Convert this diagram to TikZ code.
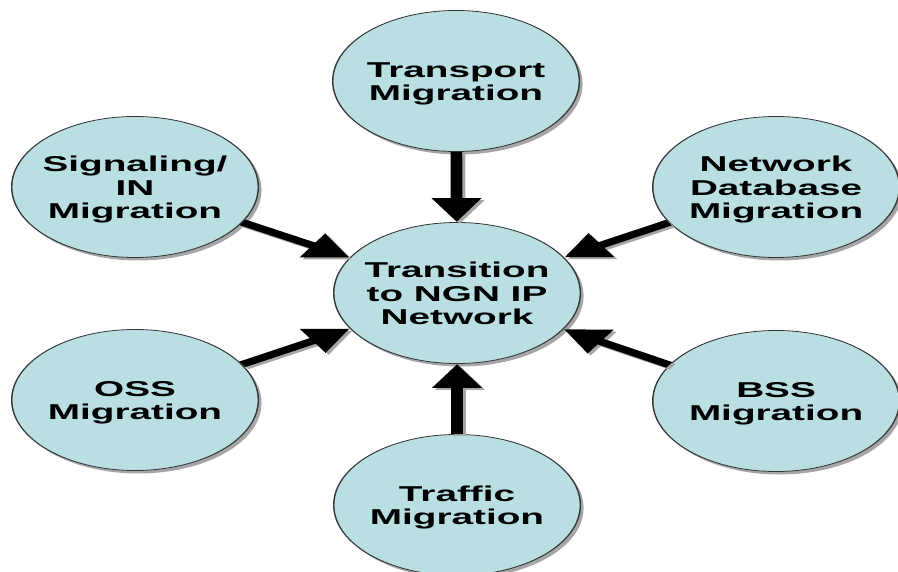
\documentclass[tikz,border=0pt]{standalone}
\usepackage{fontspec}
\setmainfont{Liberation Sans}
\usetikzlibrary{shapes.geometric,arrows.meta,shadows}
\definecolor{bub}{RGB}{185,223,227}
\definecolor{rim}{RGB}{55,55,55}
\newcommand{\bubtext}[1]{\makebox[0pt]{\raisebox{-8.5pt}[0pt][0pt]{\begin{tabular}{@{}c@{}}#1\end{tabular}}}}
\tikzset{
  bubble/.style={ellipse, draw=rim, line width=0.8pt, fill=bub,
    minimum width=137pt, minimum height=141pt, inner sep=0pt,
    font=\fontsize{21.5}{23.5}\selectfont\bfseries, text=black,
    drop shadow={shadow xshift=1.8pt, shadow yshift=-3pt, fill=black, opacity=0.35}},
  feed/.style={line width=6.5pt, -{Triangle[width=26pt,length=24pt]}, black},
  feedshadow/.style={line width=6.5pt, -{Triangle[width=26pt,length=24pt]}, black!35},
}
\begin{document}
\begin{tikzpicture}
\useasboundingbox (0,0) rectangle (898pt,-572pt);
\begin{scope}[transform canvas={xscale=1.8}, x=0.5556pt, y=-1pt]
  \node[bubble] (hub) at (457,293) {\bubtext{Transition\\to NGN IP\\Network}};
  \node[bubble] (transport) at (456,81) {\bubtext{Transport\\Migration}};
  \node[bubble] (signal) at (135,187) {\bubtext{Signaling/\\IN\\Migration}};
  \node[bubble] (netdb) at (776,187) {\bubtext{Network\\Database\\Migration}};
  \node[bubble] (oss) at (135,400) {\bubtext{OSS\\Migration}};
  \node[bubble] (bss) at (776,401) {\bubtext{BSS\\Migration}};
  \node[bubble] (traffic) at (457,505) {\bubtext{Traffic\\Migration}};
  \begin{scope}[transform canvas={shift={(1.7pt,-2pt)}}]
    \foreach \s in {transport,signal,netdb,oss,bss,traffic}
      \draw[feedshadow] (\s) -- (hub);
  \end{scope}
  \foreach \s in {transport,signal,netdb,oss,bss,traffic}
    \draw[feed] (\s) -- (hub);
\end{scope}
\end{tikzpicture}
\end{document}
